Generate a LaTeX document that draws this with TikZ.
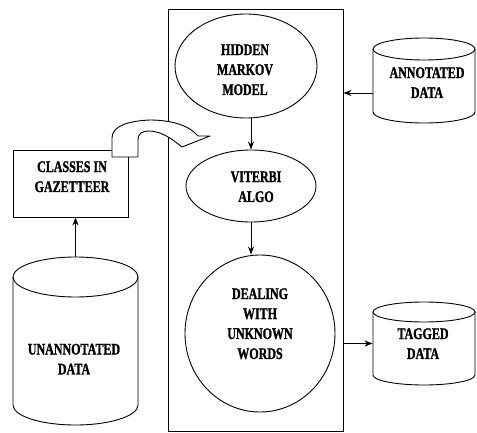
\documentclass[tikz,border=0pt]{standalone}
\usepackage{fontspec}
\setmainfont{Liberation Serif}[BoldFeatures={FakeBold=1.6}]
\usepackage{graphicx}
\usetikzlibrary{arrows.meta,calc,shapes.geometric}

% tall bold caption text, several lines
\newcommand\captext[1]{\scalebox{1}[1.35]{\fontsize{12}{14.8}\selectfont\bfseries
  \begin{tabular}{@{}c@{}}#1\end{tabular}}}

% database drum: name, centre x, top y, bottom y, x radius, y radius
\newcommand\drum[6]{%
  \node[inner sep=0pt, minimum width={2*#5}, minimum height={#3-#4}] (#1) at (#2,{(#3+#4)/2}) {};
  \draw[fill=white] (#2-#5,#3-#6) -- (#2-#5,#4+#6)
    arc[start angle=180, end angle=360, x radius=#5, y radius=#6]
    -- (#2+#5,#3-#6);
  \draw (#2,#3-#6) ellipse[x radius=#5, y radius=#6];
}

\begin{document}
\begin{tikzpicture}[x=1pt, y=1pt, line width=0.9pt,
  flow/.style={-{Stealth[length=8pt,width=6pt]}},
  txt/.style={inner sep=0pt}]
\useasboundingbox (0,0) rectangle (477,432);

% central processing frame
\node[draw, inner sep=0pt, minimum width=175, minimum height=422] (frame) at (255.5,212) {};

% stages inside the frame
\node[draw, ellipse, inner sep=0pt, minimum width=142, minimum height=104] (hmm) at (246,366) {};
\node[txt] (hmmt) at (245,361) {\captext{HIDDEN\\MARKOV\\MODEL}};
\node[draw, ellipse, inner sep=0pt, minimum width=130, minimum height=72] (vit) at (251,246) {};
\node[txt] (vitt) at (256,244) {\captext{VITERBI\\ALGO}};
\node[draw, ellipse, inner sep=0pt, minimum width=150, minimum height=157] (deal) at (260,98.5) {};
\node[txt] (dealt) at (260,107) {\captext{DEALING\\WITH\\UNKNOWN\\WORDS}};

% gazetteer classes
\node[draw, inner sep=0pt, minimum width=115, minimum height=67] (cls) at (70.5,248.5) {};
\node[txt] (clst) at (72,254) {\captext{CLASSES IN\\GAZETTEER}};

% data stores
\drum{ann}{424}{394}{309}{51}{11}
\node[txt] (annt) at (427,348) {\captext{ANNOTATED\\DATA}};
\drum{tag}{424}{130}{47}{51}{10}
\node[txt] (tagt) at (423,87) {\captext{TAGGED\\DATA}};
\drum{un}{75.5}{175}{7}{62.5}{20}
\node[txt] (unt) at (74,71.5) {\captext{UNANNOTATED\\DATA}};

% connectors
\draw[flow] (hmm.south -| vit.north) -- (vit.north);
\draw[flow] (vit.south) -- (vit.south |- deal.north);
\draw[flow] ([yshift=-12.5pt]ann.west) -- ([yshift=-12.5pt]ann.west -| frame.east);
\draw[flow] (frame.east |- tag.west) -- (tag.west);
\draw[flow] (un.north) -- (un.north |- cls.south);

% bent block arrow from the gazetteer into the frame
\draw[fill=white, line join=round]
  (112,275) -- (112,294)
  .. controls (112,306) and (128,311) .. (150,312)
  .. controls (172,312) and (190,306) .. (198,296)
  -- (210,296) -- (182,285)
  .. controls (172,293) and (163,300) .. (150,301)
  .. controls (141,301) and (138,298) .. (138,292)
  -- (138,275) -- cycle;
\end{tikzpicture}
\end{document}
